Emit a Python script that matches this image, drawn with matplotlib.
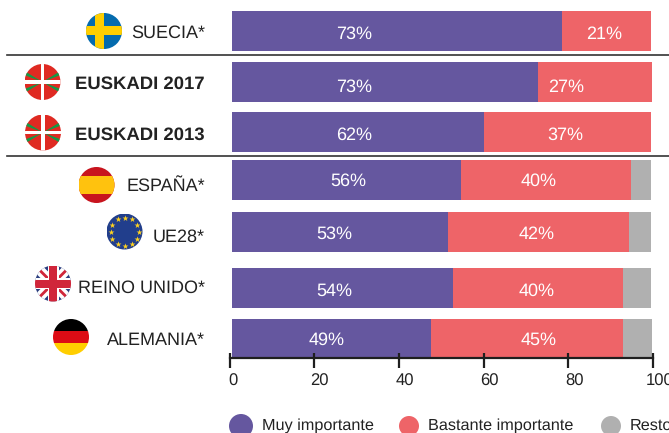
import matplotlib
matplotlib.use("Agg")
import matplotlib.pyplot as plt
from matplotlib.patches import Circle, Rectangle, Polygon
from matplotlib.transforms import ScaledTranslation
import numpy as np

plt.rcParams['font.family'] = ['Liberation Sans', 'DejaVu Sans']
plt.rcParams['text.hinting'] = 'no_hinting'

# ---- data ----
categories = ["SUECIA*", "EUSKADI 2017", "EUSKADI 2013", "ESPAÑA*", "UE28*", "REINO UNIDO*", "ALEMANIA*"]
muy = [78.0, 72.3, 59.6, 54.1, 51.0, 52.2, 47.0]
bastante = [21.0, 26.9, 39.4, 40.2, 42.8, 40.2, 45.2]
resto = [0.0, 0.0, 0.0, 4.7, 5.2, 6.6, 6.9]
muy_labels = ["73%", "73%", "62%", "56%", "53%", "54%", "49%"]
bastante_labels = ["21%", "27%", "37%", "40%", "42%", "40%", "45%"]
legend_labels = ["Muy importante", "Bastante importante", "Resto"]
xticks = [0, 20, 40, 60, 80, 100]

# ---- layout (pixels) ----
W, H = 669, 433
row_y = [31, 82, 132, 180, 232, 288, 338]
row_h = [40, 40, 40, 40, 40, 40, 38]
text_base = [38, 89, 140, 191, 242, 293, 345]
pct_base = [39, 92, 140, 186, 239, 296, 345]
muy_lx = [29.5, 29.5, 29.5, 28.0, 24.7, 24.7, 23.0]
bas_lx = [88.5, 79.4, 79.4, 73.0, 72.6, 72.6, 73.0]
tick_dx = [3, 5, 6, 6, 6, 7]
flag_xy = [(104, 31), (42.5, 82), (43, 132.5), (96.5, 185), (124.5, 231.5), (53, 283.5), (71, 337)]
PURPLE, RED, GRAY, DARK = "#65579F", "#EE6468", "#B0B0B0", "#1F1F1F"
OFFSET = 0.6

fig = plt.figure(figsize=(W / 100, H / 100), dpi=100)
bg = fig.add_axes([0, 0, 1, 1])
bg.set_xlim(0, W); bg.set_ylim(H, 0); bg.axis("off")

ax0, ax1, axy = 229.5, 653, 358
ax = fig.add_axes([ax0 / W, 1 - axy / H, (ax1 - ax0) / W, axy / H])
ax.set_xlim(0, 100); ax.set_ylim(axy, 0)
ax.patch.set_alpha(0)
for s in ("top", "left", "right"):
    ax.spines[s].set_visible(False)
ax.spines["bottom"].set_linewidth(1.6)
ax.spines["bottom"].set_color(DARK)
ax.spines["bottom"].set_zorder(5)

muy_a, bas_a, res_a = map(np.array, (muy, bastante, resto))
ax.barh(row_y, muy_a, left=OFFSET, height=row_h, color=PURPLE, zorder=2)
ax.barh(row_y, bas_a, left=OFFSET + muy_a, height=row_h, color=RED, zorder=2)
ax.barh(row_y, res_a, left=OFFSET + muy_a + bas_a, height=row_h, color=GRAY, zorder=2)

ax.set_yticks([])
ax.set_xticks(xticks)
ax.tick_params(axis="x", direction="out", length=7.2, width=1.6, color=DARK,
               labelsize=12, labelcolor="#222222", pad=4)
for lab, dx in zip(ax.get_xticklabels(), tick_dx):
    lab.set_transform(lab.get_transform() + ScaledTranslation(dx / 100, 0, fig.dpi_scale_trans))
    lab.set_clip_on(False)
for t in xticks:
    ax.plot([t, t], [353, axy], color=DARK, lw=1.6, zorder=6, solid_capstyle="butt", clip_on=False)

for y, xa, xb, a, b in zip(pct_base, muy_lx, bas_lx, muy_labels, bastante_labels):
    ax.text(xa, y, a, color="white", fontsize=13, ha="center", va="baseline", zorder=7)
    ax.text(xb, y, b, color="white", fontsize=13, ha="center", va="baseline", zorder=7)

# category labels
for c, y in zip(categories, text_base):
    bold = c.startswith("EUSKADI")
    bg.text(205, y, c, ha="right", va="baseline", fontsize=13.3 if bold else 13, color="#222222",
            fontweight="bold" if bold else "normal")

# separators
for y in (54.5, 156):
    bg.plot([7, W], [y, y], color="#333333", lw=1.2, zorder=8)


def flag(i, name):
    cx, cy = flag_xy[i]
    r = 18
    c = Circle((cx, cy), r, transform=bg.transData)

    def rect(x, y, w, h, col):
        bg.add_patch(Rectangle((cx + x, cy + y), w, h, color=col, lw=0, zorder=3)).set_clip_path(c)

    def poly(pts, col):
        bg.add_patch(Polygon([(cx + a, cy + b) for a, b in pts], color=col, lw=0, zorder=3)).set_clip_path(c)

    if name == "se":
        rect(-r, -r, 2 * r, 2 * r, "#056BAE")
        rect(-r, -5, 2 * r, 9, "#FFCE00")
        rect(-9, -r, 9, 2 * r, "#FFCE00")
    elif name == "eu":
        rect(-r, -r, 2 * r, 2 * r, "#DF2A22")
        for s in (1, -1):
            poly([(-r, -s * 11), (-r, -s * 7), (r, s * 7), (r, s * 11)], "#129A47")
        rect(-r, -1.7, 2 * r, 3.4, "white")
        rect(-1.7, -r, 3.4, 2 * r, "white")
    elif name == "es":
        rect(-r, -r, 2 * r, 2 * r, "#C8141E")
        rect(-r, -9, 2 * r, 18, "#FFC20E")
    elif name == "ue":
        rect(-r, -r, 2 * r, 2 * r, "#213E8C")
        ang = np.deg2rad(np.arange(0, 360, 30))
        bg.scatter(cx + 14 * np.cos(ang), cy + 14 * np.sin(ang), marker="*", s=20,
                   color="#FFD21F", lw=0, zorder=4)
    elif name == "uk":
        rect(-r, -r, 2 * r, 2 * r, "#2B3E7F")
        for s in (1, -1):
            poly([(-r, -s * (r - 7)), (-r + 7, -s * r), (r, s * (r - 7)), (r - 7, s * r)], "white")
            poly([(-r, -s * (r - 2)), (-r + 2, -s * r), (r, s * (r - 2)), (r - 2, s * r)], "#D0263A")
        rect(-r, -5.5, 2 * r, 11, "white")
        rect(-5.5, -r, 11, 2 * r, "white")
        rect(-r, -4, 2 * r, 8, "#D0263A")
        rect(-4, -r, 8, 2 * r, "#D0263A")
    elif name == "de":
        rect(-r, -r, 2 * r, 12, "#000000")
        rect(-r, -6, 2 * r, 12, "#DD0C15")
        rect(-r, 6, 2 * r, 12, "#FFCE00")


for i, n in enumerate(["se", "eu", "eu", "es", "ue", "uk", "de"]):
    flag(i, n)

# legend
for x, rx, col, tx, lab in zip((241, 409, 611), (12, 10, 10), (PURPLE, RED, GRAY), (262, 428, 630), legend_labels):
    bg.add_patch(Circle((x, 426), rx, color=col, lw=0))
    bg.text(tx, 430, lab, ha="left", va="baseline", fontsize=11.7, color="#222222")

fig.savefig("out.png", dpi=100)
